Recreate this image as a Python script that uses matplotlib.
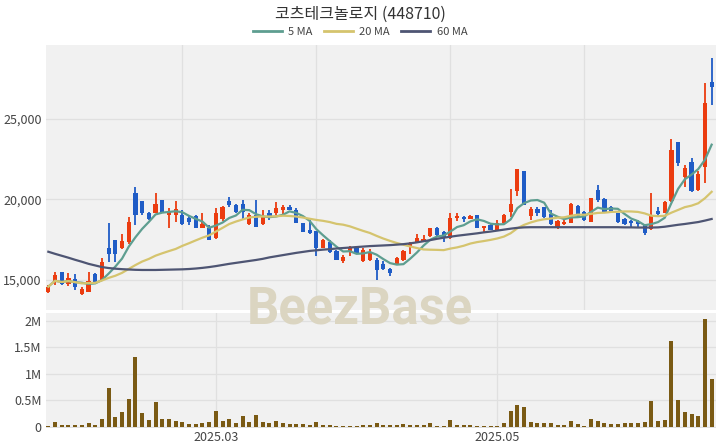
import numpy as np
import pandas as pd
import matplotlib
matplotlib.use("Agg")
import matplotlib.pyplot as plt
from matplotlib.lines import Line2D
from matplotlib.ticker import FuncFormatter

plt.rcParams['font.family'] = ['Noto Sans CJK KR', 'DejaVu Sans']

TITLE = "코츠테크놀로지 (448710)"

# daily candles (KRW)
opens = [14280, 14900, 15470, 14730, 15060, 14140, 14280, 15370, 15000, 17000,
         17470, 17000, 17370, 20410, 19880, 19120, 19160, 19940, 19050, 19050,
         19050, 18850, 18970, 18230, 18190, 17610, 18750, 19900, 19630, 19730,
         18440, 19010, 18440, 19180, 19120, 19320, 19530, 19320, 18560, 18090,
         18030, 17000, 17370, 16790, 16170, 16710, 17060, 16170, 16240, 16240,
         15970, 15660, 15970, 16240, 17100, 17370, 17370, 17740, 18230, 17980,
         17610, 18810, 18910, 18770, 19010, 18230, 18420, 18110, 18520, 19240,
         20540, 21750, 18970, 19380, 19510, 19100, 18210, 18460, 18560, 19590,
         19240, 18620, 20600, 20000, 19550, 19130, 18760, 18680, 18680, 18410,
         18140, 19300, 19170, 19920, 23570, 21400, 22340, 20580, 22030, 27290]
highs = [14690, 15515, 15515, 15410, 15350, 14590, 15470, 15410, 16340, 18500,
         17470, 17880, 18910, 20760, 19880, 19220, 20410, 19940, 19430, 19900,
         19320, 19010, 19050, 19120, 18400, 19430, 19590, 20150, 19730, 19940,
         19120, 19940, 19320, 19320, 19840, 19630, 19670, 19430, 18560, 18700,
         18030, 17510, 17450, 16850, 16540, 17120, 17120, 17000, 16910, 16340,
         16190, 15760, 16440, 16850, 17370, 17820, 17780, 18250, 18290, 18030,
         19180, 19180, 18970, 19010, 19050, 18350, 18480, 18720, 19100, 20620,
         21850, 21750, 19510, 19550, 19550, 19340, 18720, 18830, 19750, 19650,
         19300, 20100, 20880, 20060, 19590, 19170, 18820, 18720, 18720, 18470,
         20410, 19500, 19920, 23720, 23570, 22130, 22540, 21780, 27190, 28740]
lows = [14180, 14690, 14690, 14650, 14380, 14070, 14240, 14860, 14940, 16130,
        16090, 16950, 17260, 18400, 19010, 18700, 19120, 19160, 18230, 18600,
        18400, 18400, 18230, 18190, 17470, 17570, 18640, 19500, 19180, 18700,
        18400, 18290, 18400, 18700, 19050, 19050, 19320, 18500, 17980, 17880,
        16500, 16960, 16650, 16210, 16030, 16500, 16580, 16130, 16170, 15000,
        15620, 15250, 15930, 16190, 16600, 17330, 17330, 17680, 17680, 17330,
        17570, 18640, 18600, 18750, 18190, 17980, 18070, 18070, 18480, 18890,
        20210, 19650, 18720, 18970, 18830, 18420, 18170, 18420, 18520, 18890,
        18680, 18580, 19860, 19190, 19130, 18550, 18410, 18270, 18200, 17790,
        18100, 18970, 19130, 19860, 22070, 20790, 20480, 20540, 20990, 25850]
closes = [14590, 15310, 14730, 15100, 14590, 14420, 14940, 14900, 16130, 16590,
          16590, 17410, 18600, 19050, 19180, 18750, 19730, 19160, 19260, 19400,
          18440, 18600, 18230, 18440, 17470, 19120, 19530, 19650, 19220, 19220,
          19010, 18290, 18970, 18970, 19430, 19530, 19360, 18500, 17980, 17940,
          16960, 17470, 16710, 16240, 16440, 17060, 16650, 16850, 16650, 15620,
          15700, 15410, 16380, 16790, 17300, 17610, 17570, 18190, 17780, 17610,
          18850, 18970, 18770, 18970, 18230, 18350, 18110, 18560, 19030, 19710,
          21850, 19650, 19380, 19180, 18890, 18480, 18680, 18620, 19710, 18970,
          18720, 20060, 19960, 19240, 19170, 18620, 18470, 18510, 18470, 17890,
          18970, 19090, 19860, 23060, 22270, 21920, 20540, 21570, 25950, 26940]

# 60-day average (it needs history before the window)
ma60 = [16750, 16620, 16500, 16380, 16250, 16130, 16000, 15900, 15800, 15740,
        15700, 15670, 15650, 15630, 15620, 15620, 15620, 15630, 15640, 15650,
        15660, 15680, 15710, 15750, 15800, 15860, 15930, 16000, 16060, 16120,
        16180, 16240, 16310, 16400, 16470, 16540, 16610, 16680, 16740, 16800,
        16840, 16880, 16910, 16950, 16980, 17010, 17040, 17070, 17100, 17120,
        17140, 17160, 17190, 17220, 17270, 17330, 17400, 17470, 17550, 17620,
        17680, 17740, 17790, 17840, 17890, 17950, 18000, 18060, 18120, 18180,
        18230, 18260, 18270, 18270, 18270, 18270, 18270, 18270, 18270, 18270,
        18270, 18270, 18270, 18270, 18270, 18270, 18260, 18260, 18250, 18250,
        18250, 18260, 18300, 18360, 18420, 18470, 18530, 18590, 18680, 18780]

# volume in thousands of shares
volumes_k = [20, 94, 31, 31, 31, 25, 75, 38, 138, 736,
             176, 277, 516, 1308, 264, 126, 472, 138, 151, 113,
             94, 50, 50, 63, 94, 302, 113, 151, 75, 201,
             94, 214, 88, 63, 101, 75, 50, 57, 57, 38,
             88, 31, 25, 19, 19, 19, 19, 25, 38, 75,
             25, 25, 38, 44, 38, 38, 38, 75, 13, 13,
             126, 38, 25, 25, 19, 19, 19, 19, 75, 302,
             409, 365, 94, 75, 75, 75, 25, 25, 113, 50,
             19, 138, 113, 75, 50, 50, 63, 75, 63, 88,
             491, 113, 126, 1623, 503, 283, 233, 201, 2025, 893]

month_labels = ["2025.03", "2025.05"]
month_pos = [25, 67]
grid_pos = [20, 40, 60, 80]

UP = "#eb3c10"
DOWN = "#1f5cc6"
C_MA5 = "#5e9e90"
C_MA20 = "#d5c46e"
C_MA60 = "#4e5573"
C_VOL = "#7a5a14"
BG = "#f1f1f1"
GRID = "#e0e0e0"
TXT = "#444444"

df = pd.DataFrame({"open": opens, "high": highs, "low": lows, "close": closes,
                   "volume": np.array(volumes_k) * 1000, "ma60": ma60})
df["ma5"] = df["close"].rolling(5, min_periods=1).mean()
df["ma20"] = df["close"].rolling(20, min_periods=1).mean()
x = np.arange(len(df))
up = df["close"] >= df["open"]
colors = np.where(up, UP, DOWN)

fig = plt.figure(figsize=(7.2, 4.48), dpi=100)
ax = fig.add_axes([46 / 720, 1 - 310 / 448, 670 / 720, 265 / 448])
axv = fig.add_axes([46 / 720, 1 - 428 / 448, 670 / 720, 115 / 448])

for a in (ax, axv):
    a.set_facecolor(BG)
    for s in a.spines.values():
        s.set_visible(False)
    a.tick_params(length=0, labelsize=9, labelcolor=TXT, pad=3)
    a.set_xlim(-0.35, 99.65)
    a.set_axisbelow(True)

# candles
ax.vlines(x, df["low"], df["high"], color=colors, lw=1.3, zorder=2)
body_lo = np.minimum(df["open"], df["close"])
body_h = np.maximum(np.abs(df["close"] - df["open"]), 60)
ax.bar(x, body_h, bottom=body_lo, width=0.64, color=colors, zorder=3)

ax.plot(x, df["ma5"], color=C_MA5, lw=1.6, zorder=4)
ax.plot(x, df["ma20"], color=C_MA20, lw=1.6, zorder=4)
ax.plot(x, df["ma60"], color=C_MA60, lw=1.6, zorder=4)

ax.set_ylim(13140, 29560)
ax.set_yticks([15000, 20000, 25000])
ax.yaxis.set_major_formatter(FuncFormatter(lambda v, p: f"{v:,.0f}"))
ax.set_xticks(grid_pos)
ax.tick_params(labelbottom=False)
ax.grid(True, color=GRID, lw=0.9)

# volume
axv.bar(x, df["volume"], width=0.6, color=C_VOL, zorder=3)
axv.set_ylim(-25000, 2.145e6)
axv.set_yticks([0, 0.5e6, 1e6, 1.5e6, 2e6])
axv.set_yticklabels(["0", "0.5M", "1M", "1.5M", "2M"])
axv.set_xticks(month_pos)
axv.set_xticklabels(month_labels)
axv.tick_params(axis="x", pad=2)
axv.grid(True, color=GRID, lw=0.9)

fig.text(0.5, 1 - 14 / 448, TITLE, ha="center", va="center", fontsize=11.5, color="#333333")

handles = [Line2D([0], [0], color=c, lw=2) for c in (C_MA5, C_MA20, C_MA60)]
fig.legend(handles, ["5 MA", "20 MA", "60 MA"], loc="center", bbox_to_anchor=(0.5, 1 - 32 / 448),
           ncol=3, frameon=False, fontsize=8, handlelength=2.6, handletextpad=0.6,
           columnspacing=1.0, labelcolor=TXT)

fig.text(0.5, 1 - 309 / 448, "BeezBase", ha="center", va="center", fontsize=36.5,
         fontweight="bold", family=["Roboto", "DejaVu Sans"], color="#dbd5c1", zorder=10)

fig.savefig("out.png", dpi=100, facecolor="white")
